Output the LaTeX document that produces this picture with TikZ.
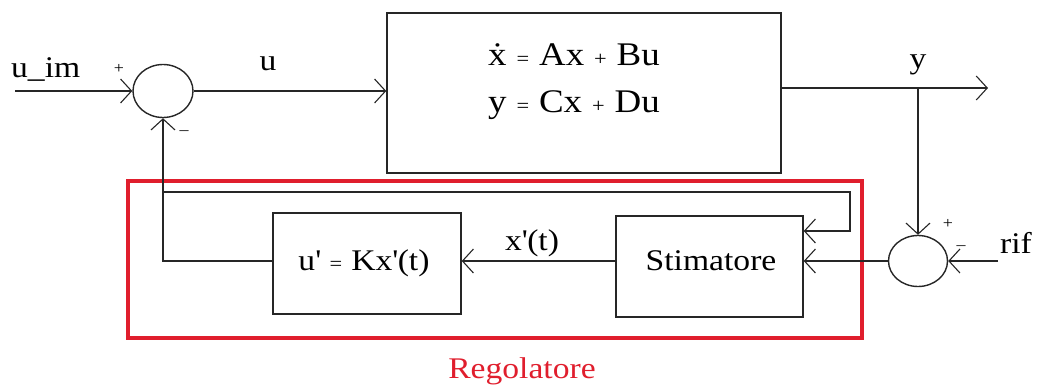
\documentclass[tikz,border=0pt]{standalone}
\usepackage{fontspec}
\setmainfont{Liberation Serif}[FakeStretch=1.12]
\usetikzlibrary{arrows.meta,shapes.geometric}
\definecolor{regred}{RGB}{224,30,45}
\newcommand{\sm}[1]{\hspace{0.3em}{\fontsize{20}{22}\selectfont #1}\hspace{0.3em}}
\newcommand{\pr}{\textquotesingle}
\tikzset{
  ln/.style={line width=1.4pt, draw=black!85},
  arr/.style={ln, -{Straight Barb[length=11pt,width=24pt,line width=1.1pt]}},
  blk/.style={ln, rectangle, inner sep=0pt},
  sum/.style={ln, ellipse, minimum width=60pt, minimum height=53pt, inner sep=0pt},
  lbl/.style={font=\fontsize{30}{34}\selectfont, inner sep=0pt, anchor=base},
  eqn/.style={font=\fontsize{33}{36}\selectfont, inner sep=0pt, anchor=base},
  sgn/.style={font=\fontsize{16}{18}\selectfont, inner sep=0pt}
}
\begin{document}
\begin{tikzpicture}[x=1pt,y=-1pt]
\useasboundingbox (0,0) rectangle (1041,388);
% red region
\draw[regred, line width=3.5pt] (128,181) rectangle (862,338);
\node[lbl, font=\fontsize{30}{34}\selectfont, text=regred] (reg) at (522,378) {Regolatore};
% blocks
\node[blk, minimum width=394pt, minimum height=160pt] (plant) at (584,93) {};
\node[eqn] (eq1) at (574,65) {\.x\sm{=}Ax\sm{+}Bu};
\node[eqn] (eq2) at (574,112) {y\sm{=}Cx\sm{+}Du};
\node[blk, minimum width=188pt, minimum height=101pt] (gain) at (367,263.5) {};
\node[lbl] (gaintxt) at (364,270) {u\pr\sm{=}Kx\pr(t)};
\node[blk, minimum width=187pt, minimum height=101pt] (stim) at (709.5,266.5) {};
\node[lbl] (stimtxt) at (711,270) {Stimatore};
% summing junctions
\node[sum] (sum1) at (163,91) {};
\node[sum, minimum width=59pt, minimum height=51pt] (sum2) at (918,261) {};
% coordinates
\coordinate (uin) at (15,91);
\coordinate (yout) at (988,88);
\coordinate (ybr) at (918,88);
\coordinate (rifin) at (998,261);
\coordinate (fbr) at (164,192);
\coordinate (fcorner) at (850,192);
\coordinate (fcorner2) at (850,231);
% connectors
\draw[arr] (uin) -- (sum1.west);
\draw[arr] (sum1.east) -- (sum1.east -| plant.west);
\draw[arr] (plant.east |- yout) -- (yout);
\draw[arr] (ybr) -- (sum2.north);
\draw[arr] (rifin) -- (sum2.east);
\draw[arr] (sum2.west) -- (sum2.west -| stim.east);
\draw[arr] (stim.west |- 0,261) -- (gain.east |- 0,261);
\draw[arr] (gain.west |- 0,261) -| (sum1.south);
\draw[arr] (fbr) -- (fcorner) -- (fcorner2) -- (fcorner2 -| stim.east);
% labels
\node[lbl, anchor=base west] (luim) at (11,77) {u\_im};
\node[lbl] (lu) at (268,70) {u};
\node[lbl] (ly) at (918,68) {y};
\node[lbl, anchor=base west] (lrif) at (1000,253) {rif};
\node[lbl] (lx) at (532,250) {x\pr(t)};
\node[sgn] (p1) at (119,69) {+};
\node[sgn] (m1) at (184,131) {\_};
\node[sgn] (p2) at (948,224) {+};
\node[sgn] (m2) at (961,246) {\_};
\end{tikzpicture}
\end{document}
